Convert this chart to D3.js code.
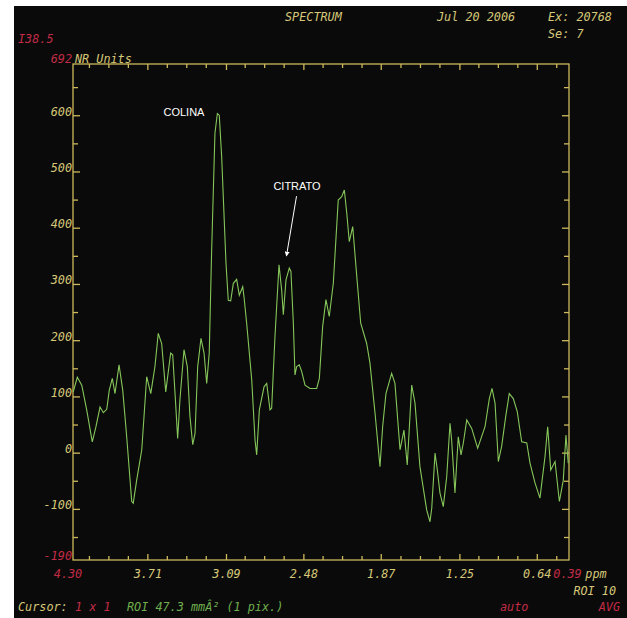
<!DOCTYPE html>
<html>
<head>
<meta charset="utf-8">
<script src="https://cdn.jsdelivr.net/npm/d3@7"></script>
<style>
  body { margin: 0; background: #ffffff; }
  svg text { font-family: "DejaVu Sans Mono", "Liberation Mono", monospace; font-style: oblique; font-size: 11.8px; }
</style>
</head>
<body>
<svg id="chart" width="627" height="618"></svg>
<script>
// ---------- DATA ----------
const ppm = [4.298, 4.266, 4.231, 4.192, 4.148, 4.119, 4.087, 4.061, 4.034, 4.014,
  3.990, 3.969, 3.937, 3.908, 3.877, 3.837, 3.825, 3.798, 3.758, 3.719,
  3.687, 3.654, 3.628, 3.601, 3.569, 3.530, 3.514, 3.488, 3.475, 3.457,
  3.425, 3.399, 3.378, 3.356, 3.338, 3.317, 3.291, 3.267, 3.246, 3.226,
  3.207, 3.181, 3.162, 3.147, 3.128, 3.094, 3.076, 3.057, 3.036, 3.010,
  2.989, 2.962, 2.952, 2.931, 2.891, 2.865, 2.852, 2.831, 2.794, 2.773,
  2.747, 2.734, 2.708, 2.676, 2.655, 2.642, 2.621, 2.595, 2.582, 2.563,
  2.550, 2.537, 2.516, 2.497, 2.471, 2.432, 2.379, 2.358, 2.332, 2.306,
  2.280, 2.248, 2.209, 2.182, 2.161, 2.142, 2.122, 2.095, 2.064, 2.032,
  1.985, 1.959, 1.919, 1.880, 1.859, 1.833, 1.788, 1.762, 1.722, 1.691,
  1.665, 1.630, 1.604, 1.565, 1.512, 1.486, 1.472, 1.446, 1.428, 1.407,
  1.381, 1.354, 1.328, 1.315, 1.289, 1.263, 1.241, 1.223, 1.196, 1.157,
  1.110, 1.052, 1.018, 0.997, 0.973, 0.947, 0.921, 0.889, 0.861, 0.829,
  0.798, 0.763, 0.723, 0.697, 0.658, 0.619, 0.579, 0.558, 0.534, 0.500,
  0.466, 0.435, 0.414, 0.396];
const intensity = [109, 135, 121, 77, 20, 47, 82, 72, 78, 112,
  133, 106, 157, 112, 30, -86, -89, -48, 6, 136,
  106, 154, 213, 195, 109, 178, 175, 77, 26, 95,
  184, 154, 65, 15, 35, 154, 204, 178, 124, 178,
  361, 569, 604, 601, 527, 338, 272, 271, 302, 309,
  281, 296, 278, 231, 130, 23, -3, 77, 118, 124,
  77, 80, 207, 335, 290, 246, 308, 329, 323, 231,
  139, 154, 157, 145, 121, 115, 115, 133, 225, 273,
  243, 302, 450, 456, 468, 427, 376, 403, 317, 231,
  195, 160, 71, -24, 47, 106, 142, 124, 6, 41,
  -21, 121, 89, -24, -101, -122, -98, 0, -30, -71,
  -95, -42, 53, 23, -71, 29, -3, 18, 59, 44,
  9, 47, 97, 115, 89, -15, 12, 65, 106, 97,
  74, 20, 18, -18, -53, -80, -6, 47, -30, -15,
  -86, -48, 32, -18];

const xDomain = [4.30, 0.39];
const yDomain = [-190, 692];
const xTickValues = [3.71, 3.09, 2.48, 1.87, 1.25, 0.64];
const xTickLabels = ["3.71", "3.09", "2.48", "1.87", "1.25", "0.64"];
const yTickValues = [600, 500, 400, 300, 200, 100, 0, -100];
const yTickLabels = ["600", "500", "400", "300", "200", "100", "0", "-100"];

const annotationLabels = ["COLINA", "CITRATO"];
const annotationPpm = [3.425, 2.534];
const annotationValue = [600, 468];
const arrowFromPpm = 2.538, arrowFromValue = 457;
const arrowToPpm = 2.617, arrowToValue = 351;

// ---------- LAYOUT ----------
const svg = d3.select("#chart");
const M = { left: 73, top: 64, right: 569, bottom: 560 };
const YELLOW = "#d6c878", FRAME = "#cdb95c", RED = "#c22c46", GREEN = "#6fae4e", CURVE = "#86c65a";

svg.append("rect").attr("x", 14).attr("y", 6).attr("width", 613).attr("height", 612).attr("fill", "#0a0a0a");

const x = d3.scaleLinear().domain(xDomain).range([M.left, M.right]);
const y = d3.scaleLinear().domain(yDomain).range([M.bottom, M.top]);

// minor tick values
const xStep = (xTickValues[0] - xTickValues[xTickValues.length - 1]) / (xTickValues.length - 1) / 4;
const xMinor = d3.range(-1, 24).map(k => xTickValues[xTickValues.length - 1] + k * xStep)
  .filter(v => v > 0.39 && v < 4.30 && !xTickValues.some(t => Math.abs(t - v) < 0.01));
const yMinor = d3.range(-150, 692, 100);

// ticks drawn inward from the frame
const tickG = svg.append("g").attr("stroke", FRAME).attr("stroke-width", 1.3);
function xTicks(vals, len) {
  tickG.append("g").selectAll("line").data(vals).join("line")
    .attr("x1", d => x(d)).attr("x2", d => x(d)).attr("y1", M.bottom).attr("y2", M.bottom - len);
  tickG.append("g").selectAll("line").data(vals).join("line")
    .attr("x1", d => x(d)).attr("x2", d => x(d)).attr("y1", M.top).attr("y2", M.top + len);
}
function yTicks(vals, len) {
  tickG.append("g").selectAll("line").data(vals).join("line")
    .attr("y1", d => y(d)).attr("y2", d => y(d)).attr("x1", M.left).attr("x2", M.left + len);
  tickG.append("g").selectAll("line").data(vals).join("line")
    .attr("y1", d => y(d)).attr("y2", d => y(d)).attr("x1", M.right).attr("x2", M.right - len);
}
xTicks(xTickValues, 6);
xTicks(xMinor, 4);
yTicks(yTickValues, 7);
yTicks(yMinor, 5);

// frame
svg.append("rect").attr("x", M.left).attr("y", M.top)
  .attr("width", M.right - M.left).attr("height", M.bottom - M.top)
  .attr("fill", "none").attr("stroke", FRAME).attr("stroke-width", 1.3);

// curve
const pts = ppm.map((p, i) => ({ p, v: intensity[i] }));
svg.append("path").datum(pts)
  .attr("fill", "none").attr("stroke", CURVE).attr("stroke-width", 1.1)
  .attr("d", d3.line().x(d => x(d.p)).y(d => y(d.v)));

// y labels
svg.append("g").selectAll("text").data(yTickValues).join("text")
  .attr("x", M.left - 1).attr("y", d => y(d)).attr("text-anchor", "end")
  .attr("fill", YELLOW).text((d, i) => yTickLabels[i]);
svg.append("text").attr("x", M.left - 1).attr("y", y(692) - 1).attr("text-anchor", "end").attr("fill", RED).text("692");
svg.append("text").attr("x", M.left + 2).attr("y", y(692) - 1).attr("fill", YELLOW).text("NR Units");
svg.append("text").attr("x", M.left - 1).attr("y", y(-190)).attr("text-anchor", "end").attr("fill", RED).text("-190");

// x labels
const xl = M.bottom + 18;
svg.append("g").selectAll("text").data(xTickValues).join("text")
  .attr("x", d => x(d)).attr("y", xl).attr("text-anchor", "middle")
  .attr("fill", YELLOW).text((d, i) => xTickLabels[i]);
svg.append("text").attr("x", x(4.30) - 5).attr("y", xl).attr("text-anchor", "middle").attr("fill", RED).text("4.30");
svg.append("text").attr("x", x(0.64) + 16).attr("y", xl).attr("fill", RED).text("0.39");
svg.append("text").attr("x", x(0.64) + 48).attr("y", xl).attr("fill", YELLOW).text("ppm");

// header
svg.append("text").attr("x", 285).attr("y", 21).attr("fill", YELLOW).text("SPECTRUM");
svg.append("text").attr("x", 437).attr("y", 21).attr("fill", YELLOW).text("Jul 20 2006");
svg.append("text").attr("x", 548).attr("y", 21).attr("fill", YELLOW).text("Ex: 20768");
svg.append("text").attr("x", 548).attr("y", 38).attr("fill", YELLOW).text("Se: 7");
svg.append("text").attr("x", 18).attr("y", 43).attr("fill", RED).text("I38.5");

// footer
svg.append("text").attr("x", 616).attr("y", 595).attr("text-anchor", "end").attr("fill", YELLOW).text("ROI 10");
svg.append("text").attr("x", 18).attr("y", 611).attr("fill", YELLOW).text("Cursor:");
svg.append("text").attr("x", 75).attr("y", 611).attr("fill", RED).text("1 x 1");
svg.append("text").attr("x", 127).attr("y", 611).attr("fill", GREEN).text("ROI 47.3 mmÂ² (1 pix.)");
svg.append("text").attr("x", 500).attr("y", 611).attr("fill", RED).text("auto");
svg.append("text").attr("x", 620).attr("y", 611).attr("text-anchor", "end").attr("fill", RED).text("AVG");

// annotations
svg.append("g").selectAll("text").data(annotationLabels).join("text")
  .attr("x", (d, i) => x(annotationPpm[i])).attr("y", (d, i) => y(annotationValue[i]))
  .attr("text-anchor", "middle").attr("fill", "#ffffff")
  .style("font-family", "'Liberation Sans', Arial, sans-serif").style("font-style", "normal").style("font-size", "11px")
  .text(d => d);
svg.append("defs").append("marker").attr("id", "ah").attr("viewBox", "0 0 6 6").attr("refX", 5).attr("refY", 3)
  .attr("markerWidth", 5).attr("markerHeight", 5).attr("orient", "auto")
  .append("path").attr("d", "M0,0L6,3L0,6Z").attr("fill", "#ffffff");
svg.append("line")
  .attr("x1", x(arrowFromPpm)).attr("y1", y(arrowFromValue))
  .attr("x2", x(arrowToPpm)).attr("y2", y(arrowToValue))
  .attr("stroke", "#ffffff").attr("stroke-width", 1).attr("marker-end", "url(#ah)");
</script>
</body>
</html>
